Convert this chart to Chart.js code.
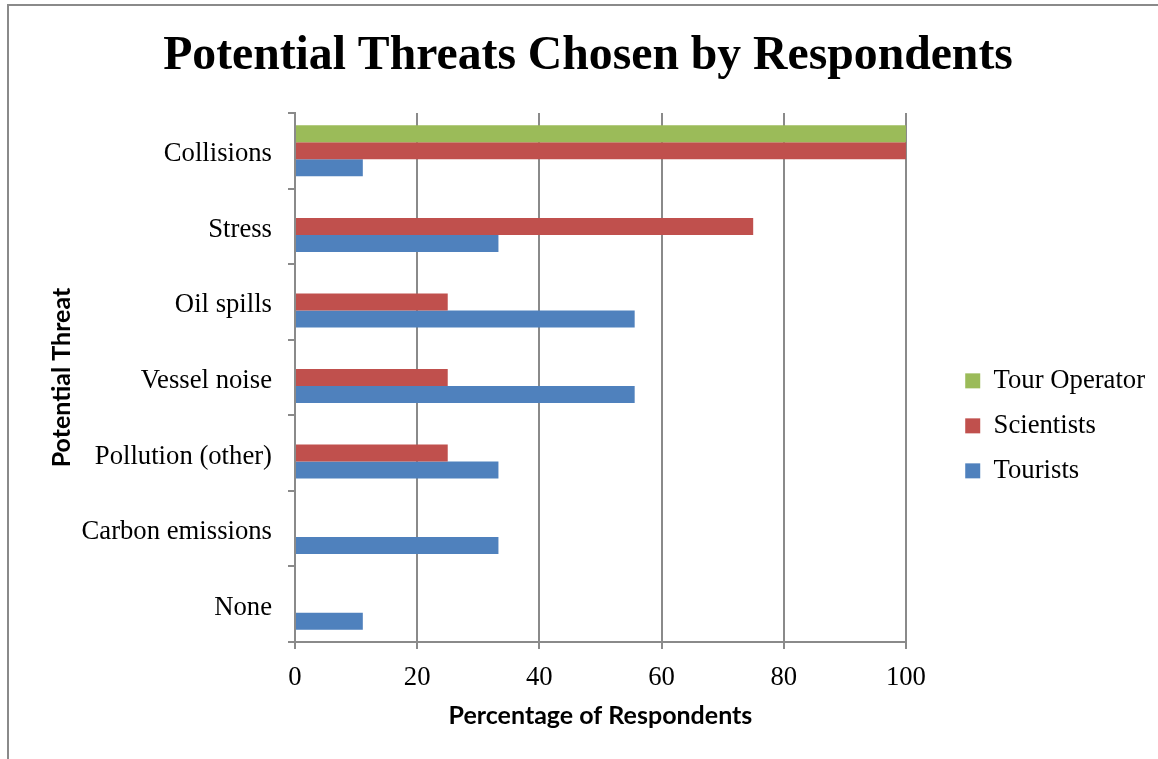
<!DOCTYPE html>
<html>
<head>
<meta charset="utf-8">
<title>Potential Threats Chosen by Respondents</title>
<script src="https://cdn.jsdelivr.net/npm/chart.js@4.4.1/dist/chart.umd.min.js"></script>
<style>
  html, body { margin: 0; padding: 0; background: #fff; overflow: hidden; }
  #frame {
    position: absolute; left: 7px; top: 4px; width: 1300px; height: 900px;
    border-top: 2px solid #8a8a8a; border-left: 2px solid #8a8a8a;
  }
  #wrap { position: absolute; left: 0; top: 0; width: 1158px; height: 759px; }
</style>
</head>
<body>
<div id="frame"></div>
<div id="wrap"><canvas id="chart"></canvas></div>
<script>
// Threat categories, top to bottom
const categories = ['Collisions', 'Stress', 'Oil spills', 'Vessel noise', 'Pollution (other)', 'Carbon emissions', 'None'];

// Percentage of each respondent group choosing the threat
const tourOperator = [100, 0, 0, 0, 0, 0, 0];
const scientists   = [100, 75, 25, 25, 25, 0, 0];
const tourists     = [11.1, 33.3, 55.6, 55.6, 33.3, 33.3, 11.1];

// Value axis ticks
const xTickMin = 0;
const xTickMax = 100;
const xTickStep = 20;

const GRID = '#8a8a8a';
const SERIF = "'Liberation Serif', 'Times New Roman', serif";
const SANS = "Lato, 'Open Sans', sans-serif";
const LABEL_SIZE = 26.7;

new Chart(document.getElementById('chart'), {
  type: 'bar',
  data: {
    labels: categories,
    datasets: [
      { label: 'Tour Operator', data: tourOperator, backgroundColor: '#9BBB59' },
      { label: 'Scientists',    data: scientists,   backgroundColor: '#C0504D' },
      { label: 'Tourists',      data: tourists,     backgroundColor: '#4F81BD' }
    ]
  },
  options: {
    indexAxis: 'y',
    responsive: true,
    maintainAspectRatio: false,
    animation: false,
    devicePixelRatio: 1,
    datasets: {
      bar: { categoryPercentage: 0.675, barPercentage: 1.0, borderWidth: 0 }
    },
    layout: { padding: { left: 20.9, right: 2.9, top: 0, bottom: 28 } },
    scales: {
      x: {
        type: 'linear',
        position: 'bottom',
        min: xTickMin,
        max: xTickMax,
        ticks: { stepSize: xTickStep, color: '#000', font: { family: SERIF, size: LABEL_SIZE }, padding: 13 },
        grid: { color: GRID, lineWidth: 2, tickLength: 7, drawTicks: true },
        border: { color: GRID, width: 2 },
        title: {
          display: true, text: 'Percentage of Respondents', color: '#000',
          font: { family: SANS, size: 25, weight: 'bold' }, padding: { top: -6, bottom: 0 }
        }
      },
      y: {
        type: 'category',
        position: 'left',
        ticks: { color: '#000', font: { family: SERIF, size: LABEL_SIZE }, padding: 16, labelOffset: 3.5 },
        grid: { drawOnChartArea: false, drawTicks: true, tickLength: 7, color: GRID, lineWidth: 2, offset: true },
        border: { color: GRID, width: 2 },
        title: {
          display: true, text: 'Potential Threat', color: '#000',
          font: { family: SANS, size: 25, weight: 'bold' }, padding: { top: 26.1, bottom: 0 }
        },
        afterFit(scale) { scale.width = 274.1; }
      },
      // empty right-hand strip separating the plot from the legend
      gap: {
        type: 'linear',
        position: 'right',
        display: true,
        grid: { display: false },
        border: { display: false },
        ticks: { display: false },
        afterFit(scale) { scale.width = 41; }
      }
    },
    plugins: {
      title: {
        display: true,
        text: 'Potential Threats Chosen by Respondents',
        color: '#000',
        font: { family: SERIF, size: 47.7, weight: 'bold' },
        padding: { top: 28, bottom: 27.8 }
      },
      legend: {
        position: 'right',
        align: 'center',
        maxWidth: 300,
        title: { display: true, text: ' ', font: { size: 10 }, padding: { top: 108.7, bottom: 0 } },
        labels: {
          color: '#000',
          font: { family: SERIF, size: LABEL_SIZE },
          boxWidth: 15,
          boxHeight: 15,
          padding: 18.3
        }
      },
      tooltip: { enabled: false }
    }
  }
});
</script>
</body>
</html>
